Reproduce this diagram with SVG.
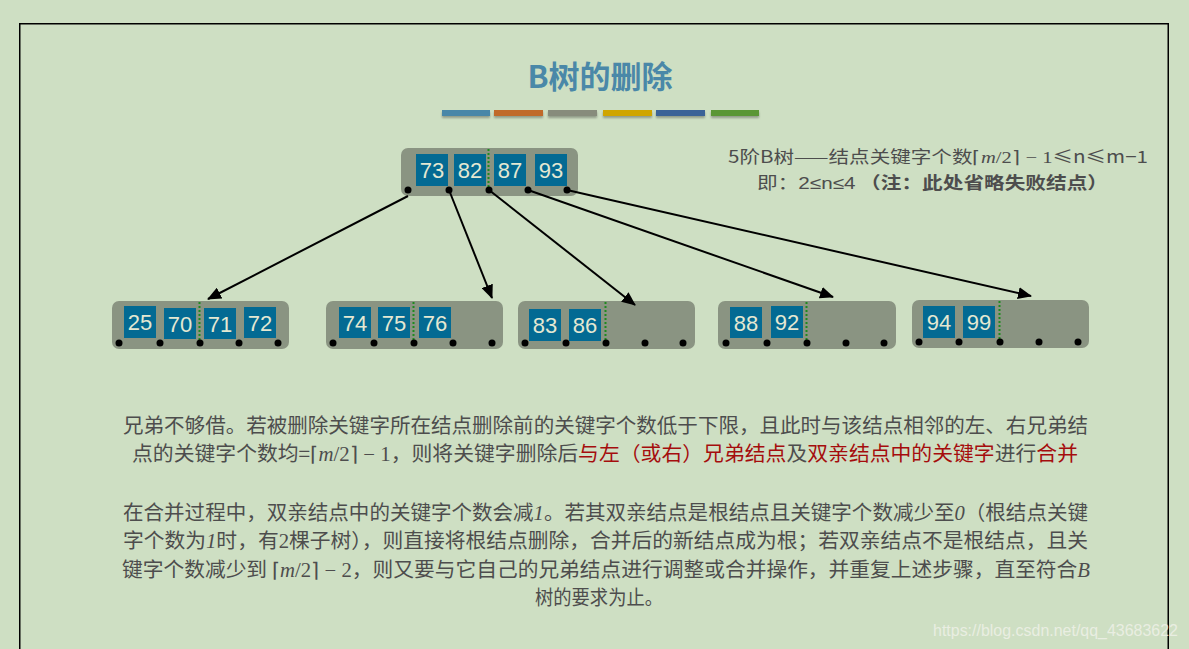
<svg xmlns="http://www.w3.org/2000/svg" width="1189" height="649" viewBox="0 0 1189 649">
<style>
.node{fill:#8a9482;}
.key{fill:#036a93;}
.kt{font-family:"Liberation Sans",Arial,sans-serif;font-size:22px;fill:#e4e8d2;text-anchor:middle;}
.dot{fill:#000;}
.sep{stroke:#1f8a1f;stroke-width:2;stroke-dasharray:2,2;}
.txt{font-family:"Noto Sans CJK SC","Noto Sans",sans-serif;font-size:20px;fill:#4d4d4d;}
.red{fill:#a50d0d;}
.math{font-family:"Liberation Serif",serif;}
.it{font-family:"Liberation Serif",serif;font-style:italic;}
.edge{stroke:#000;stroke-width:2;fill:none;marker-end:url(#ah);}
</style>
<defs>
<marker id="ah" markerWidth="14" markerHeight="12" refX="13" refY="6" orient="auto" markerUnits="userSpaceOnUse">
<path d="M0,0 L14,6 L0,12 z" fill="#000"/>
</marker>
<filter id="sh" x="-10%" y="-50%" width="120%" height="250%">
<feDropShadow dx="0" dy="2" stdDeviation="1.2" flood-color="#000" flood-opacity="0.3"/>
</filter>
</defs>
<rect x="0" y="0" width="1189" height="649" fill="#cedfc3"/>
<path d="M19.75,649 V23.75 H1168.25 V649" fill="none" stroke="#000" stroke-width="1.5"/>
<text x="600" y="88" text-anchor="middle" style="font-family:'Noto Sans CJK SC',sans-serif;font-size:31px;font-weight:bold;fill:#4a88a8">B树的删除</text>
<g filter="url(#sh)">
<rect x="442" y="110" width="48" height="6" fill="#4a87a8"/>
<rect x="494" y="110" width="49" height="6" fill="#c06b2a"/>
<rect x="548" y="110" width="49" height="6" fill="#878c7c"/>
<rect x="603" y="110" width="49" height="6" fill="#cfa500"/>
<rect x="656" y="110" width="49" height="6" fill="#3a6497"/>
<rect x="711" y="110" width="48" height="6" fill="#5a9635"/>
</g>
<g id="note">
<text x="728" y="163" textLength="420" lengthAdjust="spacingAndGlyphs" style="font-family:'Noto Sans CJK SC',sans-serif;font-size:17px;fill:#4d4d4d">5阶B树——结点关键字个数<tspan class="math">⌈</tspan><tspan class="it">m</tspan><tspan class="math">/2⌉ − 1</tspan>≤n≤m−1</text>
<text x="757" y="189" textLength="351" lengthAdjust="spacingAndGlyphs" style="font-family:'Noto Sans CJK SC',sans-serif;font-size:17px;fill:#4d4d4d">即：<tspan font-family="Liberation Sans">2≤n≤4</tspan> <tspan font-weight="bold">（注：此处省略失败结点）</tspan></text>
</g>
<g id="root">
<rect class="node" x="401" y="148" width="177" height="48" rx="7"/>
<rect class="key" x="416" y="154" width="32" height="32"/><text class="kt" x="432" y="178">73</text>
<rect class="key" x="454" y="154" width="32" height="32"/><text class="kt" x="470" y="178">82</text>
<rect class="key" x="494" y="154" width="32" height="32"/><text class="kt" x="510" y="178">87</text>
<rect class="key" x="535" y="154" width="32" height="32"/><text class="kt" x="551" y="178">93</text>
<line class="sep" x1="488.5" y1="149" x2="488.5" y2="188"/>
<circle class="dot" cx="408" cy="190" r="3.5"/><circle class="dot" cx="449" cy="190" r="3.5"/><circle class="dot" cx="489" cy="190" r="3.5"/><circle class="dot" cx="528" cy="190" r="3.5"/><circle class="dot" cx="567" cy="190" r="3.5"/>
</g>
<g id="leaf1">
<rect class="node" x="112" y="301" width="177" height="48" rx="7"/>
<rect class="key" x="124" y="306" width="32" height="32"/><text class="kt" x="140" y="330">25</text>
<rect class="key" x="164" y="308" width="32" height="31"/><text class="kt" x="180" y="332">70</text>
<rect class="key" x="204" y="308" width="32" height="31"/><text class="kt" x="220" y="332">71</text>
<rect class="key" x="244" y="307" width="32" height="31"/><text class="kt" x="260" y="331">72</text>
<line class="sep" x1="199.5" y1="302" x2="199.5" y2="340"/>
<circle class="dot" cx="119" cy="343" r="3.5"/><circle class="dot" cx="160" cy="343" r="3.5"/><circle class="dot" cx="200" cy="343" r="3.5"/><circle class="dot" cx="239" cy="343" r="3.5"/><circle class="dot" cx="278" cy="343" r="3.5"/>
</g>
<g id="leaf2">
<rect class="node" x="326" y="301" width="177" height="48" rx="7"/>
<rect class="key" x="339" y="307" width="32" height="31"/><text class="kt" x="355" y="331">74</text>
<rect class="key" x="378" y="307" width="32" height="31"/><text class="kt" x="394" y="331">75</text>
<rect class="key" x="419" y="307" width="32" height="31"/><text class="kt" x="435" y="331">76</text>
<line class="sep" x1="413.5" y1="302" x2="413.5" y2="340"/>
<circle class="dot" cx="333" cy="343" r="3.5"/><circle class="dot" cx="374" cy="343" r="3.5"/><circle class="dot" cx="414" cy="343" r="3.5"/><circle class="dot" cx="453" cy="343" r="3.5"/><circle class="dot" cx="492" cy="343" r="3.5"/>
</g>
<g id="leaf3">
<rect class="node" x="518" y="301" width="177" height="48" rx="7"/>
<rect class="key" x="529" y="309" width="32" height="32"/><text class="kt" x="545" y="333">83</text>
<rect class="key" x="569" y="309" width="32" height="32"/><text class="kt" x="585" y="333">86</text>
<line class="sep" x1="605.5" y1="302" x2="605.5" y2="340"/>
<circle class="dot" cx="525" cy="343" r="3.5"/><circle class="dot" cx="566" cy="343" r="3.5"/><circle class="dot" cx="606" cy="343" r="3.5"/><circle class="dot" cx="645" cy="343" r="3.5"/><circle class="dot" cx="683" cy="343" r="3.5"/>
</g>
<g id="leaf4">
<rect class="node" x="718" y="301" width="178" height="48" rx="7"/>
<rect class="key" x="730" y="307" width="32" height="31"/><text class="kt" x="746" y="331">88</text>
<rect class="key" x="771" y="306" width="32" height="32"/><text class="kt" x="787" y="330">92</text>
<line class="sep" x1="806.5" y1="302" x2="806.5" y2="340"/>
<circle class="dot" cx="726" cy="343" r="3.5"/><circle class="dot" cx="767" cy="343" r="3.5"/><circle class="dot" cx="807" cy="343" r="3.5"/><circle class="dot" cx="846" cy="343" r="3.5"/><circle class="dot" cx="884" cy="343" r="3.5"/>
</g>
<g id="leaf5">
<rect class="node" x="912" y="300" width="177" height="48" rx="7"/>
<rect class="key" x="923" y="306" width="32" height="32"/><text class="kt" x="939" y="330">94</text>
<rect class="key" x="963" y="306" width="32" height="32"/><text class="kt" x="979" y="330">99</text>
<line class="sep" x1="999.5" y1="301" x2="999.5" y2="339"/>
<circle class="dot" cx="919" cy="342" r="3.5"/><circle class="dot" cx="959" cy="342" r="3.5"/><circle class="dot" cx="1000" cy="342" r="3.5"/><circle class="dot" cx="1039" cy="342" r="3.5"/><circle class="dot" cx="1078" cy="342" r="3.5"/>
</g>
<g id="connectors">
<line class="edge" x1="408" y1="196" x2="208" y2="299"/>
<line class="edge" x1="449" y1="190" x2="492" y2="298"/>
<line class="edge" x1="489" y1="190" x2="635" y2="305"/>
<line class="edge" x1="528" y1="190" x2="833" y2="297"/>
<line class="edge" x1="567" y1="190" x2="1031" y2="296"/>
</g>
<g id="desc">
<text class="txt" x="123" y="433" textLength="965" lengthAdjust="spacingAndGlyphs">兄弟不够借。若被删除关键字所在结点删除前的关键字个数低于下限，且此时与该结点相邻的左、右兄弟结</text>
<text class="txt" x="132" y="461" textLength="946" lengthAdjust="spacingAndGlyphs">点的关键字个数均=<tspan class="math">⌈</tspan><tspan class="it">m</tspan><tspan class="math">/2⌉ − 1</tspan>，则将关键字删除后<tspan class="red">与左（或右）兄弟结点</tspan>及<tspan class="red">双亲结点中的关键字</tspan>进行<tspan class="red">合并</tspan></text>
<text class="txt" x="123" y="520" textLength="965" lengthAdjust="spacingAndGlyphs">在合并过程中，双亲结点中的关键字个数会减<tspan class="it">1</tspan>。若其双亲结点是根结点且关键字个数减少至<tspan class="it">0</tspan>（根结点关键</text>
<text class="txt" x="123" y="548" textLength="965" lengthAdjust="spacingAndGlyphs">字个数为<tspan class="it">1</tspan>时，有<tspan class="math">2</tspan>棵子树），则直接将根结点删除，合并后的新结点成为根；若双亲结点不是根结点，且关</text>
<text class="txt" x="122" y="577" textLength="968" lengthAdjust="spacingAndGlyphs">键字个数减少到 <tspan class="math">⌈</tspan><tspan class="it">m</tspan><tspan class="math">/2⌉ − 2</tspan>，则又要与它自己的兄弟结点进行调整或合并操作，并重复上述步骤，直至符合<tspan class="it">B</tspan></text>
<text class="txt" x="535" y="605" textLength="128" lengthAdjust="spacingAndGlyphs">树的要求为止。</text>
</g>
<text x="1178" y="636" text-anchor="end" textLength="245" lengthAdjust="spacingAndGlyphs" style="font-family:'Liberation Sans',sans-serif;font-size:16px;fill:#eef1e8;fill-opacity:0.85">https://blog.csdn.net/qq_43683622</text>
</svg>
